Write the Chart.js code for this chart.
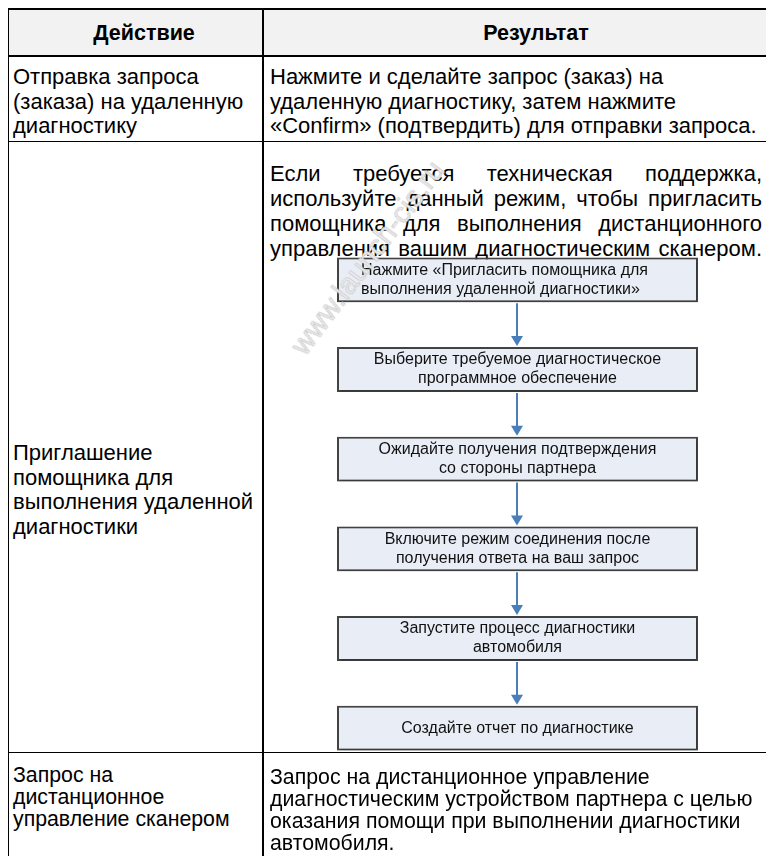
<!DOCTYPE html>
<html lang="ru">
<head>
<meta charset="utf-8">
<script src="https://cdn.jsdelivr.net/npm/chart.js@4.4.1/dist/chart.umd.min.js"></script>
<style>
  html, body { margin: 0; padding: 0; background: #fff; overflow: hidden; }
  #page { position: relative; width: 766px; height: 856px; overflow: hidden;
          font-family: "Liberation Sans", Arial, sans-serif; color: #000; }
  .ln { position: absolute; background: #000; }
  .txt { position: absolute; font-size: 22px; line-height: 24.5px; white-space: nowrap; }
  .txt span { display: block; }
  .just span { text-align: justify; text-align-last: justify; white-space: normal; }
  .hd { position: absolute; top: 10px; height: 45px; line-height: 46px; font-weight: bold;
        font-size: 21.5px; text-align: center; width: 300px; margin-left: -150px; }
  #flow { position: absolute; left: 264px; top: 235px; width: 502px; height: 538px; }
  #wm { position: absolute; left: 368px; top: 258px; font-size: 29px; color: #ececec;
        -webkit-text-stroke: 0.7px #c6c6c6; white-space: nowrap;
        transform: translate(-50%, -50%) rotate(-53deg); pointer-events: none; }
</style>
</head>
<body>
<div id="page">
  <!-- шапка -->
  <div class="ln" style="left:9px; top:10px; width:757px; height:45px; background:#f2f2f2"></div>
  <div class="hd" style="left:144px">Действие</div>
  <div class="hd" style="left:536px">Результат</div>

  <!-- линии таблицы -->
  <div class="ln" style="left:8px; top:8px; width:758px; height:2px"></div>
  <div class="ln" style="left:8px; top:55px; width:758px; height:2px"></div>
  <div class="ln" style="left:8px; top:141px; width:758px; height:1px"></div>
  <div class="ln" style="left:8px; top:752px; width:758px; height:1px"></div>
  <div class="ln" style="left:8px; top:8px; width:1px; height:848px"></div>
  <div class="ln" style="left:262px; top:8px; width:2px; height:848px"></div>

  <!-- строка 1 -->
  <div class="txt" style="left:13px; top:65px">
    <span>Отправка запроса</span><span>(заказа) на удаленную</span><span>диагностику</span>
  </div>
  <div class="txt" style="left:270px; top:65px">
    <span>Нажмите и сделайте запрос (заказ) на</span>
    <span>удаленную диагностику, затем нажмите</span>
    <span>«Confirm» (подтвердить) для отправки запроса.</span>
  </div>

  <!-- строка 2 -->
  <div class="txt" style="left:13px; top:441px">
    <span>Приглашение</span><span>помощника для</span><span>выполнения удаленной</span><span>диагностики</span>
  </div>
  <div class="txt just" style="left:270px; top:161px; width:492px; line-height:25px">
    <span>Если требуется техническая поддержка,</span>
    <span>используйте данный режим, чтобы пригласить</span>
    <span>помощника для выполнения дистанционного</span>
    <span>управления вашим диагностическим сканером.</span>
  </div>
  <div id="flow"><canvas id="flowCanvas" width="502" height="538"></canvas></div>

  <!-- строка 3 -->
  <div class="txt" style="left:13px; top:764px; line-height:22px; font-size:21.3px">
    <span>Запрос на</span><span>дистанционное</span><span>управление сканером</span>
  </div>
  <div class="txt" style="left:270px; top:766px; line-height:22px; font-size:21.3px">
    <span>Запрос на дистанционное управление</span>
    <span>диагностическим устройством партнера с целью</span>
    <span>оказания помощи при выполнении диагностики</span>
    <span>автомобиля.</span>
  </div>

  <div id="wm">www.launch-cis.ru</div>
</div>

<script>
// шаги схемы
const steps = [
  ["Нажмите «Пригласить помощника для", "выполнения удаленной диагностики»"],
  ["Выберите требуемое диагностическое", "программное обеспечение"],
  ["Ожидайте получения подтверждения", "со стороны партнера"],
  ["Включите режим соединения после", "получения ответа на ваш запрос"],
  ["Запустите процесс диагностики", "автомобиля"],
  ["Создайте отчет по диагностике"]
];
const boxStart = [0, 0, 0, 0, 0, 0];
const boxEnd = [1, 1, 1, 1, 1, 1];

// тень у блоков
const boxShadow = {
  id: 'boxShadow',
  beforeDatasetDraw(chart) {
    const ctx = chart.ctx;
    ctx.save();
    ctx.shadowColor = 'rgba(0,0,0,0.35)';
    ctx.shadowBlur = 3;
    ctx.shadowOffsetX = 1;
    ctx.shadowOffsetY = 1;
  },
  afterDatasetDraw(chart) {
    chart.ctx.restore();
  }
};

// текст в блоках и стрелки
const boxText = {
  id: 'boxText',
  afterDatasetsDraw(chart, args, opts) {
    const ctx = chart.ctx;
    const bars = chart.getDatasetMeta(0).data;
    ctx.save();
    ctx.font = '16px "Liberation Sans", Arial, sans-serif';
    ctx.fillStyle = '#111';
    ctx.textBaseline = 'middle';
    bars.forEach((bar, i) => {
      const lines = chart.data.labels[i];
      const left = Math.min(bar.x, bar.base);
      const cx = (bar.x + bar.base) / 2;
      const lh = 19;
      const y0 = bar.y - (lines.length - 1) * lh / 2;
      const alignLeft = opts.leftAligned.includes(i);
      ctx.textAlign = alignLeft ? 'left' : 'center';
      lines.forEach((t, j) => ctx.fillText(t, alignLeft ? left + opts.indent : cx, y0 + j * lh));
    });

    ctx.strokeStyle = '#4a7ebb';
    ctx.fillStyle = '#4a7ebb';
    ctx.lineWidth = 2;
    for (let i = 0; i < bars.length - 1; i++) {
      const a = bars[i], b = bars[i + 1];
      const cx = Math.round((a.x + a.base) / 2);
      const top = a.y + a.height / 2 + 1;
      const tip = b.y - b.height / 2 - 1;
      ctx.beginPath();
      ctx.moveTo(cx, top);
      ctx.lineTo(cx, tip - 9);
      ctx.stroke();
      ctx.beginPath();
      ctx.moveTo(cx - 6, tip - 10);
      ctx.lineTo(cx + 6, tip - 10);
      ctx.lineTo(cx, tip);
      ctx.closePath();
      ctx.fill();
    }
    ctx.restore();
  }
};

new Chart(document.getElementById('flowCanvas'), {
  type: 'bar',
  data: {
    labels: steps,
    datasets: [{
      data: steps.map((s, i) => [boxStart[i], boxEnd[i]]),
      backgroundColor: '#e8edf6',
      borderColor: '#454545',
      borderWidth: 2,
      borderSkipped: false,
      barPercentage: 0.5,
      categoryPercentage: 1
    }]
  },
  options: {
    indexAxis: 'y',
    responsive: false,
    animation: false,
    events: [],
    layout: { padding: 0 },
    plugins: {
      legend: { display: false },
      tooltip: { enabled: false },
      boxText: { leftAligned: [0], indent: 24 }
    },
    scales: {
      x: { type: 'linear', display: false, min: -0.2022, max: 1.1884 },
      y: { type: 'category', display: false, offset: true }
    }
  },
  plugins: [boxShadow, boxText]
});
</script>
</body>
</html>
